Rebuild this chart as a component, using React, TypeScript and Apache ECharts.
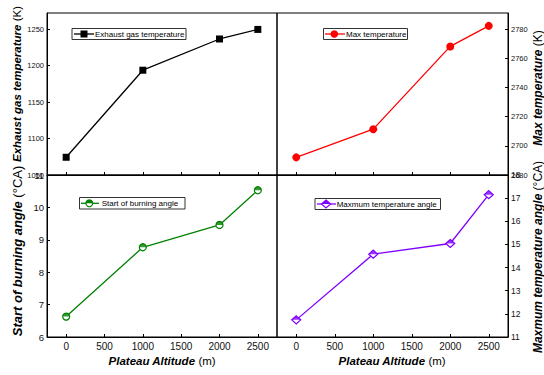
import React, { useEffect, useRef } from "react";
import * as echarts from "echarts";

const xValues = [0, 1000, 2000, 2500];
const exhaustTemp = [1074.3, 1193.6, 1236.4, 1249.5];
const maxTemp = [2692.1, 2711.4, 2768.1, 2782.2];
const burnStartAngle = [6.63, 8.77, 9.46, 10.53];
const maxTempAngle = [11.74, 14.58, 15.04, 17.15];

const xTicks = [0, 500, 1000, 1500, 2000, 2500];
const exhaustTicks = [1050, 1100, 1150, 1200, 1250];
const maxTempTicks = [2680, 2700, 2720, 2740, 2760, 2780];
const burnTicks = [6, 7, 8, 9, 10, 11];
const angleTicks = [11, 12, 13, 14, 15, 16, 17, 18];

const FONT = "Liberation Sans, Arial, sans-serif";
const GREEN = "#008000";
const PURPLE = "#8000ff";
const RED = "#ff0000";

const pairs = (ys: number[]) => xValues.map((x, i) => [x, ys[i]]);
const plain = (v: number) => String(v);

function xAxis(gridIndex: number, showLabels: boolean): any {
  return {
    type: "value",
    gridIndex,
    min: -250,
    max: 2750,
    axisLine: { show: true, onZero: false, lineStyle: { color: "#000", width: 1 } },
    axisTick: { show: true, inside: true, length: 3, customValues: xTicks, lineStyle: { color: "#000" } },
    axisLabel: {
      show: showLabels,
      customValues: xTicks,
      formatter: plain,
      fontSize: 10,
      fontFamily: FONT,
      color: "#111",
      margin: 4,
    },
    splitLine: { show: false },
  };
}

function yAxis(gridIndex: number, pos: "left" | "right", min: number, max: number, ticks: number[], fontSize: number): any {
  return {
    type: "value",
    gridIndex,
    position: pos,
    min,
    max,
    axisLine: { show: true, onZero: false, lineStyle: { color: "#000", width: 1 } },
    axisTick: { show: true, inside: true, length: 3, customValues: ticks, lineStyle: { color: "#000" } },
    axisLabel: { customValues: ticks, formatter: plain, fontSize, fontFamily: FONT, color: "#111", margin: 3 },
    splitLine: { show: false },
  };
}

const halfCircle = "path://M0,10 A10,10 0 0 1 20,10 Z";
const halfDiamond = "path://M0,10 L10,0 L20,10 Z";

function axisTitle(x: number, y: number, bold: string, rest: string, size: number): any {
  return {
    type: "text",
    x,
    y,
    rotation: Math.PI / 2,
    z: 10,
    style: {
      text: `{a|${bold}}{b| ${rest}}`,
      align: "center",
      verticalAlign: "middle",
      fill: "#000",
      rich: {
        a: { fontSize: size, fontWeight: "bold", fontStyle: "italic", fontFamily: FONT, fill: "#000" },
        b: { fontSize: size, fontFamily: FONT, fill: "#000" },
      },
    },
  };
}

function xTitle(x: number, y: number): any {
  return {
    type: "text",
    x,
    y,
    z: 10,
    style: {
      text: "{a|Plateau Altitude}{b| (m)}",
      align: "center",
      verticalAlign: "middle",
      rich: {
        a: { fontSize: 11.5, fontWeight: "bold", fontStyle: "italic", fontFamily: FONT, fill: "#000" },
        b: { fontSize: 11.5, fontFamily: FONT, fill: "#000" },
      },
    },
  };
}

function legendBox(x: number, y: number, w: number, h: number): any {
  return {
    type: "rect",
    z: 20,
    shape: { x, y, width: w, height: h },
    style: { fill: "#fff", stroke: "#333", lineWidth: 1 },
  };
}

function legendLine(x1: number, x2: number, y: number, color: string): any {
  return {
    type: "line",
    z: 21,
    shape: { x1, y1: y, x2, y2: y },
    style: { stroke: color, lineWidth: 1.3 },
  };
}

function legendText(x: number, y: number, text: string): any {
  return {
    type: "text",
    z: 22,
    x,
    y,
    style: { text, fontSize: 8, fontFamily: FONT, fill: "#000", align: "left", verticalAlign: "middle" },
  };
}

export default function App() {
  const ref = useRef<HTMLDivElement>(null);
  useEffect(() => {
    if (!ref.current) return;
    const chart = echarts.init(ref.current, undefined, { renderer: "svg" });
    const option: any = {
      animation: false,
      backgroundColor: "#fff",
      grid: [
        { left: 47, top: 13, width: 230, height: 162, show: true, borderColor: "#000", borderWidth: 1 },
        { left: 277, top: 13, width: 231, height: 162, show: true, borderColor: "#000", borderWidth: 1 },
        { left: 47, top: 175, width: 230, height: 162, show: true, borderColor: "#000", borderWidth: 1 },
        { left: 277, top: 175, width: 231, height: 162, show: true, borderColor: "#000", borderWidth: 1 },
      ],
      xAxis: [xAxis(0, false), xAxis(1, false), xAxis(2, true), xAxis(3, true)],
      yAxis: [
        yAxis(0, "left", 1050, 1272, exhaustTicks, 7.5),
        yAxis(1, "right", 2680, 2791, maxTempTicks, 7.5),
        yAxis(2, "left", 6, 11, burnTicks, 9.5),
        yAxis(3, "right", 11, 18, angleTicks, 8.5),
      ],
      series: [
        {
          name: "Exhaust gas temperature",
          type: "line",
          xAxisIndex: 0,
          yAxisIndex: 0,
          data: pairs(exhaustTemp),
          symbol: "rect",
          symbolSize: 7,
          lineStyle: { color: "#000", width: 1.3 },
          itemStyle: { color: "#000" },
        },
        {
          name: "Max temperature",
          type: "line",
          xAxisIndex: 1,
          yAxisIndex: 1,
          data: pairs(maxTemp),
          symbol: "circle",
          symbolSize: 8,
          lineStyle: { color: RED, width: 1.3 },
          itemStyle: { color: RED },
        },
        {
          name: "Start of burning angle",
          type: "line",
          xAxisIndex: 2,
          yAxisIndex: 2,
          data: pairs(burnStartAngle),
          symbol: "circle",
          symbolSize: 7,
          showAllSymbol: true,
          lineStyle: { color: GREEN, width: 1.3 },
          itemStyle: { color: "#fff", borderColor: GREEN, borderWidth: 1.2 },
        },
        {
          name: "Start of burning angle (fill)",
          type: "scatter",
          xAxisIndex: 2,
          yAxisIndex: 2,
          data: pairs(burnStartAngle),
          symbol: halfCircle,
          symbolSize: [7, 3.5],
          symbolOffset: [0, "-50%"],
          itemStyle: { color: GREEN },
          z: 5,
        },
        {
          name: "Maxmum temperature angle",
          type: "line",
          xAxisIndex: 3,
          yAxisIndex: 3,
          data: pairs(maxTempAngle),
          symbol: "diamond",
          symbolSize: [9, 8],
          lineStyle: { color: PURPLE, width: 1.3 },
          itemStyle: { color: "#fff", borderColor: PURPLE, borderWidth: 1.2 },
        },
        {
          name: "Maxmum temperature angle (fill)",
          type: "scatter",
          xAxisIndex: 3,
          yAxisIndex: 3,
          data: pairs(maxTempAngle),
          symbol: halfDiamond,
          symbolSize: [9, 4],
          symbolOffset: [0, "-50%"],
          itemStyle: { color: PURPLE },
          z: 5,
        },
      ],
      graphic: [
        axisTitle(17, 84, "Exhaust gas temperature", "(K)", 11.5),
        axisTitle(17, 251, "Start of burning angle", "(°CA)", 13),
        axisTitle(538, 88, "Max temperature", "(K)", 12),
        axisTitle(538, 257, "Maxmum temperature angle", "(°CA)", 12),
        xTitle(162, 361),
        xTitle(392, 361),
        // legend: exhaust
        legendBox(72, 28.5, 114, 11),
        legendLine(74, 94, 34, "#000"),
        { type: "rect", z: 22, shape: { x: 80.5, y: 30.5, width: 7, height: 7 }, style: { fill: "#000" } },
        legendText(95, 34.2, "Exhaust gas temperature"),
        // legend: max temperature
        legendBox(323.5, 28.5, 84, 11),
        legendLine(325, 345, 34, RED),
        { type: "circle", z: 22, shape: { cx: 334.3, cy: 34, r: 3.8 }, style: { fill: RED } },
        legendText(346, 34.2, "Max temperature"),
        // legend: start of burning angle
        legendBox(79.5, 197.5, 105.5, 11.5),
        legendLine(81, 99, 203.3, GREEN),
        { type: "circle", z: 22, shape: { cx: 89.3, cy: 203.3, r: 3.4 }, style: { fill: "#fff", stroke: GREEN, lineWidth: 1.2 } },
        { type: "sector", z: 23, shape: { cx: 89.3, cy: 203.3, r0: 0, r: 3.4, startAngle: Math.PI, endAngle: Math.PI * 2 }, style: { fill: GREEN } },
        legendText(101.7, 203.5, "Start of burning angle"),
        // legend: maxmum temperature angle
        legendBox(315, 198.5, 125.5, 11),
        legendLine(317, 336, 204, PURPLE),
        { type: "polygon", z: 22, shape: { points: [[326, 200], [330.5, 204], [326, 208], [321.5, 204]] }, style: { fill: "#fff", stroke: PURPLE, lineWidth: 1.2 } },
        { type: "polygon", z: 23, shape: { points: [[326, 200], [330.5, 204], [321.5, 204]] }, style: { fill: PURPLE } },
        legendText(336.7, 204.2, "Maxmum temperature angle"),
      ],
    };
    chart.setOption(option);
    return () => chart.dispose();
  }, []);
  return <div ref={ref} style={{ position: "fixed", left: 0, top: 0, width: 544, height: 375 }} />;
}
